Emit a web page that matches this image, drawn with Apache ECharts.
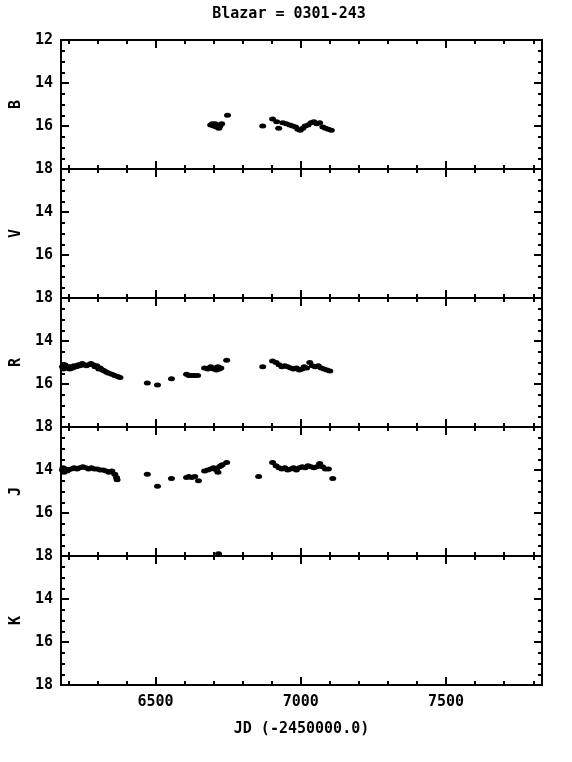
<!DOCTYPE html>
<html><head><meta charset="utf-8">
<script src="https://cdn.jsdelivr.net/npm/echarts@6/dist/echarts.min.js"></script>
<style>html,body{margin:0;padding:0;background:#fff}#c{width:572px;height:762px}</style>
</head><body><div id="c"></div>
<script>
const titleText = 'Blazar = 0301-243';
const xTitle = 'JD (-2450000.0)';
const bands = ['B','V','R','J','K'];
const xMajor = [6500, 7000, 7500];
const xMinor = [6200,6300,6400,6600,6700,6800,6900,7100,7200,7300,7400,7600,7700,7800];
const yMin = 12, yMax = 18;

const dataB = [[6690,15.95],[6695,15.9],[6700,16.0],[6705,15.9],[6710,16.05],[6715,15.95],[6718,16.1],[6722,16.0],[6728,15.9],[6748,15.5],
 [6869,16.0],[6903,15.67],[6917,15.8],[6924,16.1],[6938,15.85],[6950,15.9],[6962,15.95],[6972,16.0],[6982,16.05],[6990,16.15],[6998,16.2],
 [7007,16.1],[7015,16.0],[7025,15.95],[7035,15.85],[7045,15.8],[7055,15.9],[7065,15.85],[7076,16.05],[7085,16.1],[7095,16.15],[7105,16.2]];
const dataV = [];
const dataR = [[6180,15.2],[6183,15.3],[6185,15.25],[6188,15.1],[6190,15.15],[6195,15.25],[6200,15.2],[6205,15.3],[6210,15.2],[6215,15.25],[6220,15.15],[6228,15.2],
 [6235,15.1],[6240,15.15],[6248,15.05],[6255,15.1],[6262,15.15],[6270,15.1],[6278,15.05],[6285,15.1],[6292,15.2],[6298,15.15],[6305,15.3],
 [6310,15.25],[6318,15.35],[6325,15.4],[6332,15.45],[6340,15.5],[6350,15.55],[6360,15.6],[6370,15.65],[6378,15.7],
 [6472,15.95],[6507,16.05],[6555,15.75],[6607,15.55],[6615,15.6],[6625,15.6],[6635,15.6],[6645,15.6],
 [6669,15.25],[6680,15.3],[6690,15.2],[6700,15.3],[6705,15.25],[6710,15.35],[6715,15.2],[6720,15.3],[6725,15.25],[6745,14.9],
 [6869,15.2],[6903,14.93],[6915,15.0],[6925,15.1],[6935,15.2],[6945,15.15],[6955,15.2],[6965,15.25],[6975,15.3],[6985,15.25],[6995,15.35],
 [7005,15.3],[7012,15.2],[7020,15.25],[7031,15.0],[7040,15.15],[7050,15.2],[7060,15.15],[7070,15.25],[7080,15.3],[7090,15.35],[7100,15.4]];
const dataJ = [[6180,14.0],[6182,13.9],[6185,14.1],[6190,13.95],[6195,14.05],[6200,14.0],[6210,13.95],[6220,13.9],[6230,13.95],[6240,13.9],[6250,13.85],
 [6260,13.9],[6270,13.95],[6280,13.9],[6290,13.95],[6300,13.95],[6310,14.0],[6320,14.0],[6330,14.05],[6340,14.1],[6350,14.05],[6360,14.2],
 [6366,14.35],[6368,14.45],[6472,14.2],[6507,14.75],[6555,14.4],[6607,14.35],[6615,14.3],[6625,14.35],[6635,14.3],[6648,14.5],
 [6669,14.05],[6680,14.0],[6690,13.95],[6700,13.9],[6710,14.0],[6715,14.1],[6720,13.85],[6725,13.8],[6730,13.75],[6745,13.65],[6717,17.9],
 [6855,14.3],[6903,13.65],[6915,13.8],[6925,13.9],[6935,13.95],[6945,13.9],[6955,14.0],[6965,13.95],[6975,13.9],[6985,14.0],[6995,13.9],
 [7005,13.85],[7015,13.9],[7025,13.8],[7035,13.85],[7045,13.9],[7055,13.85],[7065,13.7],[7075,13.85],[7085,13.95],[7095,13.95],[7110,14.4]];
const dataK = [];
const allData = [dataB, dataV, dataR, dataJ, dataK];

const FONT = 'DejaVu Sans Mono';
const FS = 15;
const left = 61, width = 481, top0 = 40, ph = 129;
const grids = [], xAxes = [], yAxes = [], series = [];
const line = {show:true, lineStyle:{color:'#000', width:2}};
const txt = {color:'#000', fontFamily:FONT, fontWeight:'bold', fontSize:FS};
bands.forEach((b, i) => {
  grids.push({left: left, width: width, top: top0 + i*ph, height: ph});
  const last = i === bands.length - 1;
  const mk = (pos, vals, len, lab) => ({
    type:'value', gridIndex:i, position:pos, min:6175, max:7830,
    axisLine: line, splitLine:{show:false},
    axisTick:{show:true, inside:true, length:len, customValues: vals, lineStyle:{color:'#000', width:2}},
    axisLabel: lab ? Object.assign({show:true, customValues: xMajor, margin:10, formatter: v => String(v)}, txt) : {show:false},
    name: lab ? xTitle : '', nameLocation:'middle', nameGap:37,
    nameTextStyle: txt
  });
  xAxes.push(mk('bottom', xMajor, 8, last));
  xAxes.push(mk('bottom', xMinor, 4, false));
  xAxes.push(mk('top', xMajor, 8, false));
  xAxes.push(mk('top', xMinor, 4, false));
  const mky = (pos, lab) => ({
    type:'value', gridIndex:i, position:pos, min:yMin, max:yMax, interval:2, inverse:true,
    axisLine: line, splitLine:{show:false},
    axisTick:{show:true, inside:true, length:8, lineStyle:{color:'#000', width:2}},
    minorTick:{show:true, splitNumber:4, length:4, lineStyle:{color:'#000', width:2}},
    minorSplitLine:{show:false},
    axisLabel: lab ? Object.assign({show:true, showMinLabel:true, showMaxLabel:true, margin:8,
      formatter: v => (v === yMin && i > 0) ? '' : String(v)}, txt) : {show:false},
    name: lab ? b : '', nameLocation:'middle', nameGap:24, nameRotate:90,
    nameTextStyle: txt
  });
  yAxes.push(mky('left', true));
  yAxes.push(mky('right', false));
  series.push({type:'scatter', xAxisIndex:4*i, yAxisIndex:2*i, data: allData[i],
    symbol:'circle', symbolSize:[7,5], itemStyle:{color:'#000', opacity:1}, clip:false});
});

const chart = echarts.init(document.getElementById('c'), null, {renderer:'canvas'});
chart.setOption({
  animation:false, backgroundColor:'#fff',
  title:{text:titleText, left:284, top:2, textAlign:'center', textStyle: txt},
  grid: grids, xAxis: xAxes, yAxis: yAxes, series: series
});
</script></body></html>
